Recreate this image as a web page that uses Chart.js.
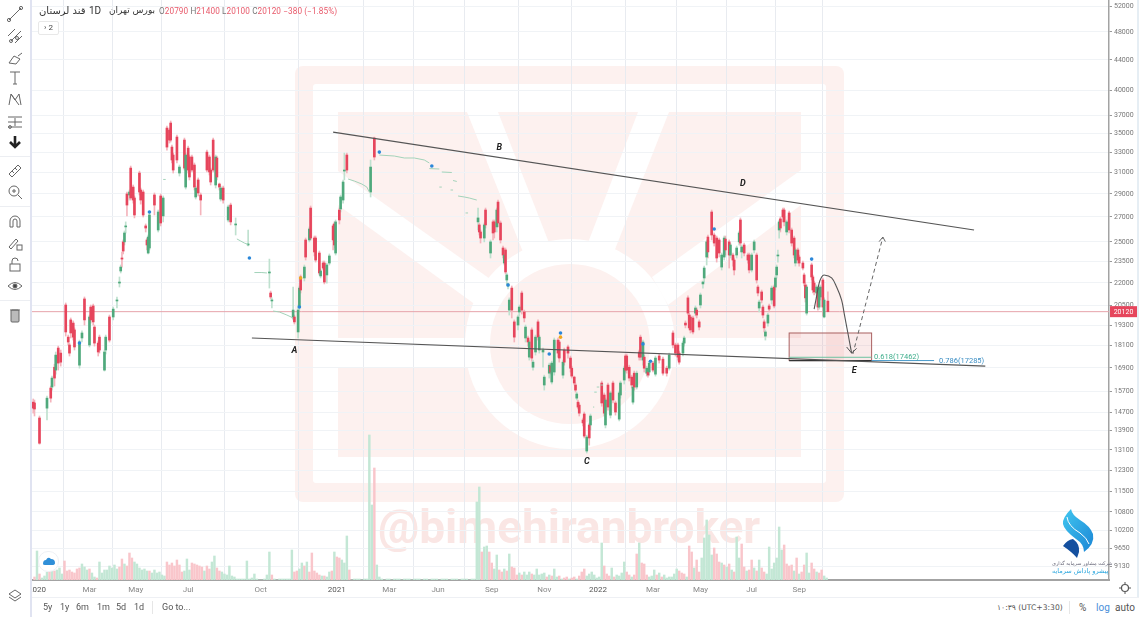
<!DOCTYPE html>
<html>
<head>
<meta charset="utf-8">
<title>قند لرستان</title>
<script src="https://cdn.jsdelivr.net/npm/chart.js@4"></script>
<style>
html, body { margin: 0; padding: 0; background: #fff; }
body { position: relative; width: 1139px; height: 617px; overflow: hidden; font-family: Roboto, "DejaVu Sans", sans-serif; color: #444; }
#chart { position: absolute; left: 0; top: 0; }
.abs { position: absolute; white-space: nowrap; }
#side { position: absolute; left: 0; top: 0; width: 30px; height: 617px; background: #fff; border-right: 2px solid #e0e3f1; }
#foot { position: absolute; left: 32px; top: 597px; width: 1107px; height: 20px; background: #fff; border-top: 1px solid #eef0f4; }
#sidebar-right { position: absolute; left: 1137px; top: 0; width: 2px; height: 597px; background: #e6eef4; }
.ico { position: absolute; left: 6px; width: 18px; height: 18px; }
.ico * { fill: none; stroke: #666; stroke-width: 1; }
.sep { position: absolute; left: 0; width: 30px; height: 1px; background: #eceef2; }
.fa { font-family: "DejaVu Sans", sans-serif; }
.foot { font-size: 9px; color: #555; top: 602px; }
</style>
</head>
<body>
<canvas id="chart" width="1139" height="617"></canvas>
<div id="side">
  <svg class="ico" style="top:5px"><path d="M3 15 L15 3"/><circle cx="3" cy="15" r="1.6"/><circle cx="15" cy="3" r="1.6"/></svg>
  <svg class="ico" style="top:27px"><path d="M2 9 L9 2 M5 14 L15 4 M9 16 L16 9"/><circle cx="5" cy="14" r="1.5"/><circle cx="11" cy="11" r="1.5"/></svg>
  <svg class="ico" style="top:49px"><path d="M3 14 L8 7 L14 10 L10 15 Z M12 7 L16 4"/></svg>
  <svg class="ico" style="top:69px"><path d="M4 3 H14 M9 3 V15 M7 15 H11"/></svg>
  <svg class="ico" style="top:90px"><path d="M3 15 L5 4 L9 10 L13 4 L15 15 M5 4 L13 15"/></svg>
  <svg class="ico" style="top:113px"><path d="M2 4 H16 M2 14 H16 M9 5 V13 M2 9 H16"/><circle cx="4" cy="14" r="1.4"/></svg>
  <svg class="ico" style="top:133px"><path d="M9 3 V12 M4 9 L9 14 L14 9" style="stroke:#222;stroke-width:2.6"/></svg>
  <div class="sep" style="top:156px"></div>
  <svg class="ico" style="top:162px"><path d="M3 12 L12 3 L15 6 L6 15 Z M6 9 L8 11 M9 6 L11 8"/></svg>
  <svg class="ico" style="top:183px"><circle cx="8" cy="8" r="5"/><path d="M12 12 L16 16 M8 6 V10 M6 8 H10"/></svg>
  <div class="sep" style="top:206px"></div>
  <svg class="ico" style="top:212px"><path d="M4 15 V9 A5 5 0 0 1 14 9 V15 H11 V9 A2 2 0 0 0 7 9 V15 Z"/></svg>
  <svg class="ico" style="top:234px"><path d="M3 13 L10 5 L12 7 L5 15 Z"/><rect x="11" y="11" width="5" height="5"/></svg>
  <svg class="ico" style="top:255px"><rect x="4" y="9" width="10" height="7"/><path d="M6 9 V6 A3 3 0 0 1 12 6"/></svg>
  <svg class="ico" style="top:277px"><path d="M2 9 Q9 2 16 9 Q9 16 2 9 Z"/><circle cx="9" cy="9" r="2" style="fill:#444"/></svg>
  <div class="sep" style="top:300px"></div>
  <svg class="ico" style="top:306px"><rect x="5" y="4" width="8" height="12" rx="1" style="fill:#bbb"/><path d="M4 4 H14"/></svg>
  <svg class="ico" style="top:587px"><path d="M9 3 L15 7 L9 11 L3 7 Z M3 10 L9 14 L15 10"/></svg>
</div>
<div id="foot"></div>
<div id="sidebar-right"></div>

<!-- legend line at the top -->
<div class="abs fa" style="left:39px;top:5px;font-size:10px;color:#333">قند لرستان</div>
<div class="abs" style="left:89px;top:5px;font-size:10px;color:#333">1D</div>
<div class="abs fa" style="left:109px;top:5px;font-size:9px;color:#333">بورس تهران</div>
<div class="abs" style="left:159px;top:6px;font-size:8.2px;color:#e8596a;letter-spacing:.1px">
  <span style="color:#777">O</span>20790 <span style="color:#777">H</span>21400 <span style="color:#777">L</span>20100 <span style="color:#777">C</span>20120 −380 (−1.85%)
</div>
<div class="abs" style="left:38px;top:21px;width:19px;height:12px;border:1px solid #e8e8e8;border-radius:2px;font-size:8px;line-height:12px;text-align:center;background:#fff">› 2</div>

<!-- cloud badge over the volume pane -->
<div class="abs" style="left:38px;top:551px;width:19px;height:19px;border:1px solid #eef0f4;border-radius:10px;background:#fff">
  <svg width="19" height="19"><path d="M4 12 Q4 8 7 8 Q9 4 12 7 Q16 7 16 11 Q16 13 13 13 H6 Q4 13 4 12 Z" fill="#2f8fd8"/></svg>
</div>

<!-- bottom bar -->
<div class="abs foot" style="left:43px">5y</div>
<div class="abs foot" style="left:60px">1y</div>
<div class="abs foot" style="left:76px">6m</div>
<div class="abs foot" style="left:97px">1m</div>
<div class="abs foot" style="left:116px">5d</div>
<div class="abs foot" style="left:134px">1d</div>
<div class="abs" style="left:152px;top:601px;width:1px;height:13px;background:#e6e6e6"></div>
<div class="abs foot" style="left:162px">Go to...</div>
<div class="abs foot fa" style="left:997px;font-size:7.6px;top:603px">۱۰:۳۹ (UTC+3:30)</div>
<div class="abs" style="left:1069px;top:601px;width:1px;height:13px;background:#e6e6e6"></div>
<div class="abs foot" style="left:1079px;font-size:10px">%</div>
<div class="abs foot" style="left:1096px;font-size:10px;color:#4a90d9">log</div>
<div class="abs foot" style="left:1115px;font-size:10px">auto</div>
<svg class="abs" style="left:1118px;top:581px" width="14" height="14"><circle cx="7" cy="7" r="3.5" fill="none" stroke="#555" stroke-width="1.2"/><path d="M7 1 V3 M7 11 V13 M1 7 H3 M11 7 H13" stroke="#555"/></svg>

<!-- broker logo -->
<svg class="abs" style="left:1050px;top:500px" width="60" height="66">
  <defs><linearGradient id="lg" x1="0" y1="0" x2="1" y2="1"><stop offset="0" stop-color="#41c6ef"/><stop offset="1" stop-color="#1a86d6"/></linearGradient></defs>
  <path d="M21 9 Q12 18 13 24 Q14 30 26 39 Q34 44 34 52 Q45 44 43 34 Q40 26 30 20 Q22 15 21 9 Z" fill="url(#lg)"/>
  <path d="M17 17 Q18 26 30 33 Q37 38 39 44" fill="none" stroke="#fff" stroke-width="1"/>
  <path d="M13 46 Q17 40 23 39 Q30 44 29 52 L27 58 Q22 52 13 46 Z" fill="#14509f"/>
</svg>
<div class="abs fa" style="left:1052px;top:560px;font-size:5px;color:#667">شرکت مشاور سرمایه گذاری</div>
<div class="abs fa" style="left:1052px;top:567px;font-size:6.5px;color:#2aa6de">پیشرو پاداش سرمایه</div>

<script>
// Candles, x is the session number on the time axis
const sessions = [1,2,6,12,15,16,18,19,21,23,
  27,29,30,31,33,34,38,40,42,46,
  47,49,50,53,54,58,59,62,65,68,
  70,71,72,73,74,75,76,78,79,81,
  82,86,87,89,91,92,93,94,98,101,
  103,105,108,110,111,112,113,116,118,122,
  123,125,126,128,130,131,133,135,140,142,
  143,145,147,148,150,151,153,157,159,163,
  173,190,191,192,209,210,213,214,215,218,
  219,222,223,226,227,230,231,233,234,236,
  238,241,242,243,246,247,249,250,252,271,
  274,357,358,359,362,363,367,369,370,372,
  373,375,377,378,379,380,381,382,384,386,
  389,390,392,394,395,397,398,400,401,403,
  405,406,409,410,414,415,416,418,421,422,
  425,426,429,431,432,434,435,436,437,438,
  441,442,444,446,447,456,458,459,461,463,
  465,467,470,471,474,475,476,478,480,481,
  482,484,486,487,489,490,492,493,494,497,
  499,502,505,508,510,513,515,517,518,521,
  522,523,525,526,527,529,531,532,534,535,
  537,538,540,541,544,546,548,550,552,554,
  555,558,559,561,562,564,566,567,568,570,
  573,574,576,578,580,581,582,584,585,586,
  587,589,590,592,594,595,596,597,598,599,
  601,602,604,606,608,610,611,613,614,617,
  618,619,620,624,625,626,628,629,630,631,
  633,634,637]
const opens = [15190,15150,14460,14910,15870,15920,16930,16780,17970,17690,
  20540,18590,18140,19610,19420,19010,17040,18540,20930,18140,
  20410,20480,19180,18250,18590,16780,17860,19790,19790,20800,
  21990,22830,23770,24990,24990,26180,29000,28910,31430,29630,
  28640,30950,29360,29180,26260,25140,24140,24520,28910,25930,
  28820,27090,35590,35370,36150,33550,32730,34610,30950,34290,
  29630,33440,32530,32530,31730,28730,30290,28910,33030,32530,
  31240,34290,29820,32430,29910,28550,29540,26750,28020,26340,
  24750,22690,21320,20800,19730,19790,18890,20410,22410,22340,
  25140,25140,27760,25290,25290,24140,22480,23400,23400,22550,
  23400,26260,26420,24140,27590,27680,28460,31140,32730,29180,
  34500,26590,26340,25770,25290,27590,24140,26590,26590,26180,
  28280,26500,24520,23400,24370,22200,21790,20220,21650,19490,
  19300,20100,21320,20100,18540,18540,17470,19010,16930,17750,
  19490,17860,17750,16020,16620,16990,16170,16680,18420,18310,
  16520,17860,18030,17420,16880,16420,16020,15380,15190,15050,
  14370,14640,13050,14150,14150,16120,15530,14150,16020,14590,
  16120,15150,14410,15530,16270,17530,17530,16930,16420,15190,
  16620,15920,17750,18590,17310,17470,16620,16680,16680,17150,
  16570,17530,17360,16880,16880,18830,18140,18140,17690,17690,
  18250,19420,21000,19910,19790,19730,20030,20220,19490,20540,
  21930,22340,23840,25370,27420,25530,25290,25140,23110,23840,
  25210,24990,23990,23990,23620,23990,24990,26750,24220,24750,
  23990,23990,22900,24370,23990,21720,20350,21390,20410,19490,
  18650,19420,20480,20860,21720,21720,22550,23920,25930,26840,
  27590,27590,25770,27340,25930,25290,23400,24370,23840,23400,
  22550,21860,20030,23260,22410,21990,21320,21390,20410,21060,
  22200,19790,20790]
const highs = [15340,15290,14550,15480,15970,16470,17090,17750,18080,17860,
  20670,18710,18250,19730,19550,19130,18420,18950,21060,19910,
  20540,20600,19300,18370,18710,17860,18710,19910,20410,21060,
  22410,23260,24220,25140,25850,26590,29180,29360,31630,29820,
  28820,31140,29540,29360,26420,25290,25530,27340,29090,27590,
  29000,28820,35820,35590,36380,33760,32930,34820,31730,34500,
  32930,33650,32730,32730,31930,29720,30480,29090,33240,32730,
  31430,34500,32730,32630,30000,29720,29720,28020,28190,26920,
  25930,23690,21450,21000,21720,19910,20540,21790,22550,23260,
  25290,26180,27940,25450,25450,24290,22970,23550,23550,23400,
  24070,26420,26590,26750,27760,28910,30290,32930,32930,32230,
  34610,27760,26500,25930,26500,27760,25140,26750,26750,27760,
  28460,26670,24670,24140,24520,22690,21990,21000,21790,19610,
  19910,20540,21450,20220,19300,18650,18420,19130,17310,18710,
  19610,18710,17970,16520,17150,17090,17250,18540,18540,18420,
  17310,17970,18140,17530,16990,16470,16120,15670,15290,15150,
  14460,14730,13710,14240,14640,16220,15630,15380,16120,15720,
  16220,15240,15720,16220,16990,17640,17640,17040,16520,16020,
  16730,16730,17860,18710,18420,17580,16990,16780,17250,17250,
  17530,17640,17470,16990,17690,18950,18250,18250,17800,18370,
  18650,19550,21130,20030,19910,19850,20480,20350,19610,21320,
  22130,23180,25140,25530,27590,25690,25450,25290,24140,25450,
  25450,25140,24900,24140,23770,24670,25850,26920,24750,24900,
  24140,24140,24140,25140,24140,21860,20860,21520,20540,19610,
  19010,20030,20600,21790,21860,22480,23260,24370,26750,27000,
  27760,27760,26750,27510,26090,25450,24520,24520,23990,23550,
  22690,21990,21860,23400,22550,22130,21860,21520,21790,21860,
  22340,21000,21400]
const lows = [14680,14550,13330,14370,15190,15770,15970,16570,16780,16990,
  18650,18140,17530,18540,18420,17860,16880,18310,19300,18030,
  19420,19300,18080,17530,17690,16730,17640,18310,19610,20350,
  21720,22690,23110,24070,24750,25690,27090,28460,28460,28190,
  26920,28910,28100,27000,25770,24370,24070,24370,27170,25770,
  26260,26590,33240,33970,34080,31930,30950,31930,30660,31240,
  29450,30950,30290,31050,29360,28550,28820,27170,31050,30760,
  29820,31050,29540,30290,29360,28370,28190,26590,26340,25530,
  24670,21650,20930,20350,19610,19360,18540,20220,21320,22130,
  23620,24990,25140,23920,23470,22550,22340,22900,21930,21990,
  23260,24370,24520,23990,26420,27420,28190,30290,30950,28730,
  32230,25930,25530,24900,24990,26090,23770,25140,25290,25770,
  26180,24900,23770,23260,22620,21930,21590,19910,19730,18310,
  19010,19850,19970,19490,18310,18080,17310,17250,16780,17580,
  18420,17690,16930,15770,16370,16570,16070,16520,17470,17200,
  16370,17040,17420,16680,16370,16020,15670,15290,14870,14550,
  14110,13590,12970,13290,13930,15000,14550,14020,14820,14460,
  15150,14590,14330,15380,16070,16680,16620,16220,15870,15100,
  15770,15820,17310,17310,17040,16680,16470,16420,16520,16680,
  16470,17150,16520,16470,16780,17970,17530,17310,17090,17530,
  18080,19130,19910,19010,18830,18770,19850,19730,19010,20350,
  21650,22060,23260,23770,25140,24670,23470,23840,22900,23620,
  23990,23040,23770,23180,22550,23770,24750,24670,23770,23920,
  23400,22690,22760,24140,21990,21130,20100,20670,19730,18890,
  18420,19240,20100,20600,20350,21520,22340,23470,25290,25770,
  26590,26260,25530,25690,24670,23770,23180,23400,23180,22900,
  21790,20730,19910,22200,21320,21190,21000,20220,20280,20860,
  19850,19730,20100]
const closes = [14910,14870,13370,15380,15380,16370,16370,17580,17150,17200,
  18890,18310,17690,18830,18590,18030,18310,18830,19610,19790,
  19610,19490,18250,17750,17860,17750,18590,18420,20280,20860,
  22060,23110,23690,24290,25690,26260,28020,29180,28640,28460,
  27170,29180,28460,27170,26090,24750,25370,27170,28020,27420,
  26500,28640,33550,34290,34290,32230,31240,32230,31530,31430,
  32730,31240,30570,31240,29630,29540,29090,28460,31240,31050,
  30100,31240,32530,30570,29630,29540,28460,27850,26590,26420,
  24830,22760,21060,20860,20220,19490,20220,21650,21520,23110,
  23840,26010,25290,24220,23620,22690,22830,23040,22060,23260,
  23920,25140,24750,26590,26750,28730,30100,31240,31240,31530,
  32530,26920,25770,25290,26340,26340,24990,25690,25770,27590,
  26500,25140,23990,23990,22760,22550,21930,20860,20220,18590,
  19790,20410,20220,19730,19180,18310,18310,17420,17200,18590,
  18590,18590,17860,16420,17040,16680,17150,18420,17690,17420,
  17200,17200,17690,16880,16470,16120,15770,15580,14960,14680,
  14240,13670,13630,13590,14550,15150,14680,15290,14960,15630,
  15290,14730,15630,16120,16880,16780,16780,16370,16020,15920,
  15920,16620,17470,17470,18310,16880,16880,16520,17150,16780,
  17420,17310,16620,16620,17580,18140,17690,17470,17200,18250,
  18540,19300,20030,19130,19010,18890,20350,19910,19180,21190,
  22060,23040,24990,24220,25530,24900,23770,24140,23990,25290,
  24370,23990,24750,23620,22900,24520,25690,24900,24600,24140,
  23620,22900,23990,24990,22200,21320,20730,20860,19910,19130,
  18890,19910,20280,21650,20480,22340,23110,23990,26590,26090,
  27000,26590,26590,25930,24900,23990,24370,23620,23400,23040,
  21990,21000,21720,22410,21520,21390,21720,20410,21650,21720,
  20410,20860,20120]

// Volume pane, one bar every second session starting at session 2
const volumes = [3,29,6,2,4,8,10,11,9,10,
  12,6,19,9,10,8,7,11,12,16,
  13,10,11,7,3,2,18,7,10,10,
  14,12,15,11,13,21,16,14,27,22,
  18,16,12,10,11,9,9,7,10,7,
  8,5,4,18,15,17,14,20,15,8,
  9,21,10,17,16,15,14,13,9,14,
  11,18,24,12,9,8,6,5,14,4,
  3,1,1,1,1,19,1,2,6,1,
  0,0,1,5,28,5,1,0,1,1,
  1,1,1,30,8,9,11,17,14,18,
  8,27,9,7,5,4,4,3,8,9,
  28,23,22,20,17,44,10,0,1,1,
  1,0,1,1,145,75,112,15,3,1,
  0,1,1,0,1,1,1,0,1,1,
  1,0,1,1,1,0,1,1,0,1,
  1,1,0,1,1,1,0,1,1,1,
  0,1,1,1,0,1,1,78,93,28,
  33,34,28,17,11,25,10,8,11,9,
  26,13,12,5,7,5,8,5,8,6,
  5,11,5,6,7,3,5,4,11,3,
  4,1,2,3,1,2,3,1,4,8,
  11,4,6,8,5,2,3,37,14,6,
  4,12,3,5,4,7,18,8,5,3,
  5,26,37,17,16,5,3,4,10,5,
  7,3,5,2,3,3,6,11,9,7,
  6,3,34,28,12,20,8,22,42,60,
  45,25,32,26,18,17,15,13,16,10,
  8,43,22,36,13,9,10,20,12,9,
  20,12,8,6,33,11,17,22,53,30,
  35,16,14,15,9,22,6,8,15,27,
  7,17,11,8,7,10,4,2]
const volumeUp = [0,1,0,1,1,1,0,1,0,1,
  1,1,0,0,0,0,0,0,0,1,
  1,1,0,1,1,0,1,1,1,1,
  1,1,1,1,0,0,1,0,0,0,
  1,1,1,1,1,1,0,1,1,1,
  1,1,1,0,0,0,0,0,0,0,
  1,1,1,0,0,0,0,0,1,0,
  0,1,1,0,0,1,1,1,1,1,
  1,1,1,1,1,1,1,1,1,1,
  1,1,1,1,1,0,1,1,1,1,
  1,1,1,1,0,0,1,1,0,1,
  0,0,0,0,0,1,0,1,1,0,
  1,0,0,1,1,1,0,1,1,1,
  1,1,1,1,1,1,0,1,1,1,
  1,1,1,1,1,1,1,1,1,1,
  1,1,1,1,1,1,1,1,1,1,
  1,1,1,1,1,1,1,1,1,1,
  1,1,1,1,1,1,1,1,1,0,
  1,1,0,0,1,1,0,0,1,0,
  1,0,0,0,1,0,1,1,1,0,
  1,1,1,1,1,0,1,0,1,1,
  0,1,0,0,1,0,0,1,0,0,
  0,1,1,1,1,1,1,1,0,0,
  0,1,0,1,1,1,1,0,0,1,
  0,0,1,0,0,0,1,1,1,0,
  1,0,1,1,1,1,1,1,0,0,
  0,1,0,0,1,0,0,1,1,1,
  1,1,0,0,0,1,0,1,0,1,
  0,1,1,0,0,1,0,0,1,0,
  1,0,0,1,1,1,1,1,1,1,
  0,0,0,0,1,0,1,0,0,1,
  1,0,0,1,0,0,1,1]

// Thinly traded stretches show as a flat green trace, null breaks the trace
const quietSessions = [105,107,107,164,167,170,173,173,178,184,188,188,
  193,198,204,209,209,253,258,264,268,270,270,
  278,290,298,306,314,318,318,318,326,326,328,336,336,337,340,340,
  341,346,350,356,356,326,328,328,335,337,337,347,349,349,
  449,450,450,450,452,452,452,454,454,455,457]
const quietPrices = [30340,30340,null,25220,25060,24900,24790,null,22720,22720,22690,null,
  20160,20100,19910,19730,null,30380,30190,29910,29630,29180,null,
  32730,32630,32430,32430,32230,31930,null,31380,31340,null,31050,31000,null,30240,30150,null,
  28820,28730,28640,28460,null,29630,29630,null,29360,29360,null,27340,27340,null,
  14960,14960,null,15670,15670,null,15920,15920,null,16020,16020]

// Signal dots on the price pane
const blueDotSessions = [38,94,174,214,278,320,381,414,423,489,495,546,624]
const blueDotPrices = [18250,27420,23770,20410,33030,31630,21860,17640,18830,18200,17250,26010,23690]
const amberDotSessions = [215,423]
const amberDotPrices = [22340,18590]

// Hand drawn pattern on top of the price
const upperLineSessions = [241,754]
const upperLinePrices = [35150,25930]
const lowerLineSessions = [176,763]
const lowerLinePrices = [18540,16990]
const curveSessions = [626,628,630,632,634,640,644,648,650,653,656]
const curvePrices = [20280,21120,21990,22410,22550,22340,21720,20860,20030,18830,17690]
const curveHeadSessions = [652,656,660]
const curveHeadPrices = [18030,17690,17950]
const dashSessions = [657,681]
const dashPrices = [17640,25370]
const dashHeadSessions = [678,681,683]
const dashHeadPrices = [25010,25370,25010]
const zoneSessions = [606,672]
const zonePrices = [18830,17285]
const fibPrices = [17462,17285]
const fibEndSessions = [672,722]
const fibTexts = ['0.618(17462)','0.786(17285)']
const fibLabelSessions = [674,726]
const waveLabels = ['A','B','C','D','E']
const waveSessions = [210,374,444,569,658]
const wavePrices = [17800,33440,12610,29910,16730]

// Axis content
const lastPrice = 20120
const priceTicks = [52000,48000,44000,40000,37000,35000,33000,31000,29000,27000,25000,23500,22000,20500,
  19300,18100,16900,15700,14700,13900,13100,12300,11500,10800,10200,9650,9130]
const timeTicks = [4,46,83,125,183,244,286,325,368,410,453,497,535,576,614]
const timeLabels = ['2020','Mar','May','Jul','Oct','2021','Mar','Jun','Sep','Nov','2022','Mar','May','Jul','Sep']

const redBody = '#e6455c', greenBody = '#4fa97c'
const redWick = '#f4b4bc', greenWick = '#bfe1cf'

function points(xs, ys) {
    return xs.map((x, i) => ({ x: x, y: ys[i] }))
}

// the logo stamped behind the whole price pane
function drawWatermark(c) {
    const pink = '#fdf1ef', white = '#ffffff'
    function poly(pts) {
        c.beginPath()
        pts.forEach((p, i) => i ? c.lineTo(p[0], p[1]) : c.moveTo(p[0], p[1]))
        c.closePath()
        c.fill()
    }
    c.fillStyle = pink
    c.beginPath(); c.roundRect(295, 66, 549, 436, 8); c.fill()
    c.fillStyle = white
    c.beginPath(); c.roundRect(313, 84, 513, 399, 3); c.fill()
    c.fillStyle = pink
    c.fillRect(338, 112, 463, 345)
    c.fillStyle = white
    c.fillRect(338, 338, 463, 29)
    poly([[338, 171], [500, 286], [480, 308], [338, 205]])
    poly([[467, 112], [498, 112], [551, 248], [525, 257]])
    poly([[638, 112], [669, 112], [612, 257], [586, 248]])
    poly([[801, 170], [652, 277], [668, 305], [801, 205]])
    c.beginPath(); c.arc(570, 344, 105, 0, Math.PI * 2); c.fill()
    c.fillStyle = pink
    c.beginPath(); c.arc(570, 344, 80, 0, Math.PI * 2); c.fill()
    c.fillStyle = '#fae6e4'
    c.font = 'bold 46px Roboto'
    c.textAlign = 'left'
    c.textBaseline = 'alphabetic'
    c.fillText('@bimehiranbroker', 378, 543)
}

const overlayPlugin = {
    id: 'overlay',
    beforeDraw(chart) {
        const c = chart.ctx
        c.save()
        c.fillStyle = '#fff'
        c.fillRect(0, 0, chart.width, chart.height)
        drawWatermark(c)
        c.restore()
    },
    beforeDatasetsDraw(chart) {
        const c = chart.ctx, x = chart.scales.x, y = chart.scales.y
        const x0 = x.getPixelForValue(zoneSessions[0]), x1 = x.getPixelForValue(zoneSessions[1])
        const y0 = y.getPixelForValue(zonePrices[0]), y1 = y.getPixelForValue(zonePrices[1])
        c.save()
        c.fillStyle = 'rgba(214,90,90,0.13)'
        c.fillRect(x0, y0, x1 - x0, y1 - y0)
        c.strokeStyle = '#a96060'
        c.lineWidth = 1
        c.strokeRect(x0, y0, x1 - x0, y1 - y0)
        c.restore()
    },
    afterDatasetsDraw(chart) {
        const c = chart.ctx, x = chart.scales.x, y = chart.scales.y
        c.save()
        c.fillStyle = '#222'
        c.font = 'italic bold 9px Roboto'
        c.textAlign = 'center'
        c.textBaseline = 'middle'
        waveLabels.forEach((t, i) => c.fillText(t, x.getPixelForValue(waveSessions[i]), y.getPixelForValue(wavePrices[i])))
        c.font = '7.5px Roboto'
        c.textAlign = 'left'
        c.textBaseline = 'bottom'
        c.fillStyle = '#3fae8c'
        c.fillText(fibTexts[0], x.getPixelForValue(fibLabelSessions[0]), y.getPixelForValue(fibPrices[0]) + 4)
        c.fillStyle = '#3d8fc4'
        c.fillText(fibTexts[1], x.getPixelForValue(fibLabelSessions[1]), y.getPixelForValue(fibPrices[1]) + 4)
        // last price tag on the scale
        const ty = y.getPixelForValue(lastPrice)
        c.fillStyle = redBody
        c.fillRect(1110, ty - 5.5, 27, 11)
        c.fillStyle = '#fff'
        c.font = '7px Roboto'
        c.textAlign = 'center'
        c.textBaseline = 'middle'
        c.fillText(String(lastPrice), 1123.5, ty + 0.5)
        c.restore()
    }
}

function lineSet(data, color, width, extra) {
    return Object.assign({
        type: 'line', data: data, borderColor: color, borderWidth: width,
        pointRadius: 0, fill: false, tension: 0, order: 3, yAxisID: 'y'
    }, extra || {})
}

function dotSet(data, color) {
    return {
        type: 'line', data: data, showLine: false, pointRadius: 1.8, pointBorderWidth: 0,
        pointBackgroundColor: color, order: 2, yAxisID: 'y'
    }
}

const datasets = [
    {
        type: 'bar', data: volumes.map((v, i) => ({ x: (i + 1) * 2, y: v })),
        backgroundColor: volumeUp.map(u => u ? '#c3e7d5' : '#f9c6cb'),
        barThickness: 1.8, grouped: false, yAxisID: 'yVol', order: 10
    },
    lineSet(points([0, 862], [lastPrice, lastPrice]), '#e7a3aa', 1, { order: 9 }),
    {
        type: 'bar', data: sessions.map((s, i) => ({ x: s, y: [lows[i], highs[i]] })),
        backgroundColor: closes.map((v, i) => v >= opens[i] ? greenWick : redWick),
        barThickness: 1, grouped: false, yAxisID: 'y', order: 8
    },
    {
        type: 'bar', data: sessions.map((s, i) => ({ x: s, y: [opens[i], closes[i]] })),
        backgroundColor: closes.map((v, i) => v >= opens[i] ? greenBody : redBody),
        barThickness: 2, minBarLength: 1, grouped: false, yAxisID: 'y', order: 7
    },
    lineSet(points(quietSessions, quietPrices), '#a3d3ba', 1, { order: 6, spanGaps: false }),
    lineSet(points(upperLineSessions, upperLinePrices), '#555', 1.2),
    lineSet(points(lowerLineSessions, lowerLinePrices), '#555', 1.2),
    lineSet(points(curveSessions, curvePrices), '#555', 1.1, { tension: 0.35 }),
    lineSet(points(curveHeadSessions, curveHeadPrices), '#555', 1),
    lineSet(points(dashSessions, dashPrices), '#666', 1, { borderDash: [4, 3] }),
    lineSet(points(dashHeadSessions, dashHeadPrices), '#666', 1),
    lineSet(points([zoneSessions[0], fibEndSessions[0]], [fibPrices[0], fibPrices[0]]), '#6cc2a0', 1),
    lineSet(points([zoneSessions[1], fibEndSessions[1]], [fibPrices[1], fibPrices[1]]), '#4a9bcb', 1),
    lineSet(points(zoneSessions, [zonePrices[1], zonePrices[1]]), '#333', 1.2),
    dotSet(points(blueDotSessions, blueDotPrices), '#2b87d9'),
    dotSet(points(amberDotSessions, amberDotPrices), '#f0a81e')
]

const config = {
    data: { datasets: datasets },
    plugins: [overlayPlugin],
    options: {
        responsive: false,
        animation: false,
        devicePixelRatio: 1,
        layout: { autoPadding: false, padding: { left: 32, right: 0, top: 0, bottom: 0 } },
        plugins: { legend: { display: false }, tooltip: { enabled: false } },
        scales: {
            x: {
                type: 'linear', min: 0, max: 862, offset: false,
                afterBuildTicks: ax => { ax.ticks = timeTicks.map(v => ({ value: v })) },
                afterFit: ax => { ax.height = 37; ax.paddingLeft = 0; ax.paddingRight = 0 },
                grid: { color: '#e8ebf0', lineWidth: 1, drawTicks: false },
                border: { color: '#a3a3a3', width: 2 },
                ticks: {
                    autoSkip: false, maxRotation: 0, padding: 5,
                    font: { family: 'Roboto', size: 8 },
                    color: ctx => ['2020', '2021', '2022'].includes(timeLabels[ctx.index]) ? '#555' : '#888',
                    callback: (v, i) => timeLabels[i]
                }
            },
            y: {
                type: 'logarithmic', position: 'right', min: 8742, max: 52979,
                afterBuildTicks: ax => { ax.ticks = priceTicks.map(v => ({ value: v })) },
                afterFit: ax => { ax.width = 30; ax.paddingTop = 0; ax.paddingBottom = 0 },
                grid: { color: '#f0f3f6', lineWidth: 1, tickLength: 3, tickColor: '#999' },
                border: { color: '#a3a3a3', width: 1.5 },
                ticks: {
                    autoSkip: false, padding: 2,
                    font: { family: 'Roboto', size: 7 }, color: '#777',
                    callback: v => String(v)
                }
            },
            yVol: { type: 'linear', display: false, min: 0, max: 580 }
        }
    }
}

new Chart(document.getElementById('chart'), config)
</script>
</body>
</html>
